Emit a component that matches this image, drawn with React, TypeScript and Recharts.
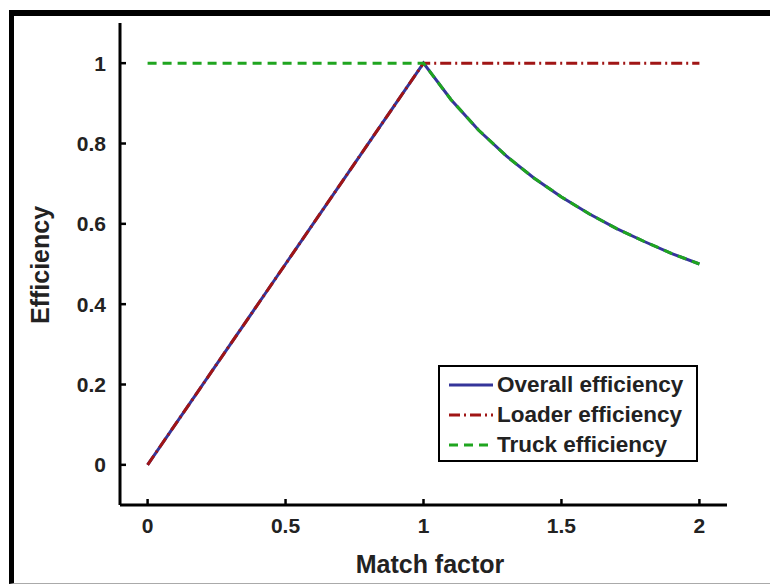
import { LineChart, Line, XAxis, YAxis, Legend } from 'recharts';

const matchFactor = [0, 0.25, 0.5, 0.75, 1, 1.1, 1.2, 1.3, 1.4, 1.5, 1.6, 1.7, 1.8, 1.9, 2];
const overallEff = [0, 0.25, 0.5, 0.75, 1, 0.909, 0.833, 0.769, 0.714, 0.667, 0.625, 0.588, 0.556, 0.526, 0.5];
const loaderEff = [0, 0.25, 0.5, 0.75, 1, 1, 1, 1, 1, 1, 1, 1, 1, 1, 1];
const truckEff = [1, 1, 1, 1, 1, 0.909, 0.833, 0.769, 0.714, 0.667, 0.625, 0.588, 0.556, 0.526, 0.5];
const xTicks = [0, 0.5, 1, 1.5, 2];
const yTicks = [0, 0.2, 0.4, 0.6, 0.8, 1];

const data = matchFactor.map((mf, i) => ({
  mf,
  overall: overallEff[i],
  loader: loaderEff[i],
  truck: truckEff[i],
}));

const FONT = 'Liberation Sans, Arial, Helvetica, sans-serif';
const BLUE = '#35359a';
const RED = '#a01515';
const GREEN = '#1fa51f';

const XTick = (props: any) => {
  const { x, y, payload } = props;
  return (
    <g>
      <line x1={x} x2={x} y1={y} y2={y - 6} stroke="#000" strokeWidth={2.5} />
      <text x={x} y={y + 28} textAnchor="middle" fontFamily={FONT} fontWeight="bold" fontSize={21} fill="#222">
        {payload.value}
      </text>
    </g>
  );
};

const YTick = (props: any) => {
  const { x, y, payload } = props;
  return (
    <g>
      <line x1={x} x2={x + 6} y1={y} y2={y} stroke="#000" strokeWidth={2.5} />
      <text x={x - 14} y={y + 7.5} textAnchor="end" fontFamily={FONT} fontWeight="bold" fontSize={21} fill="#222">
        {payload.value}
      </text>
    </g>
  );
};

const legendItems = [
  { name: 'Overall efficiency', color: BLUE, dash: undefined },
  { name: 'Loader efficiency', color: RED, dash: '11 4 2 4' },
  { name: 'Truck efficiency', color: GREEN, dash: '9 6' },
];

const LegendBox = () => (
  <div
    style={{
      boxSizing: 'border-box',
      width: 260,
      height: 97,
      border: '2.5px solid #000',
      background: '#fff',
      padding: '3px 0 0 8px',
      fontFamily: FONT,
      fontWeight: 'bold',
      fontSize: 22.5,
      color: '#222',
    }}
  >
    {legendItems.map((it) => (
      <div key={it.name} style={{ display: 'flex', alignItems: 'center', height: 30 }}>
        <svg width={46} height={10} style={{ marginRight: 3 }}>
          <line x1={1} x2={45} y1={5} y2={5} stroke={it.color} strokeWidth={3} strokeDasharray={it.dash} />
        </svg>
        <span>{it.name}</span>
      </div>
    ))}
  </div>
);

export default function App() {
  return (
    <div style={{ position: 'absolute', left: 0, top: 0, width: 770, height: 585, background: '#fff' }}>
      <div
        style={{
          position: 'absolute',
          left: 9,
          top: 10,
          right: 0,
          bottom: 1,
          borderTop: '6px solid #000',
          borderLeft: '5px solid #000',
          borderBottom: '1px solid #aaa',
        }}
      />
      <div style={{ position: 'absolute', left: 0, top: 0 }}>
        <LineChart width={770} height={585} data={data} margin={{ top: 23, right: 43, bottom: 0, left: 0 }}>
          <XAxis
            dataKey="mf"
            type="number"
            domain={[-0.1, 2.1]}
            ticks={xTicks}
            height={80}
            tickSize={0}
            tickMargin={0}
            tickLine={false}
            axisLine={{ stroke: '#000', strokeWidth: 3 }}
            tick={<XTick />}
            label={{
              content: () => (
                <text x={430} y={573} textAnchor="middle" fontFamily={FONT} fontWeight="bold" fontSize={25} fill="#222">
                  Match factor
                </text>
              ),
            }}
          />
          <YAxis
            type="number"
            domain={[-0.1, 1.1]}
            ticks={yTicks}
            width={120}
            tickSize={0}
            tickMargin={0}
            tickLine={false}
            axisLine={{ stroke: '#000', strokeWidth: 3 }}
            tick={<YTick />}
            label={{
              content: () => (
                <text
                  x={49}
                  y={265}
                  transform="rotate(-90 49 265)"
                  textAnchor="middle"
                  fontFamily={FONT}
                  fontWeight="bold"
                  fontSize={25}
                  fill="#222"
                >
                  Efficiency
                </text>
              ),
            }}
          />
          <Legend
            layout="vertical"
            align="center"
            verticalAlign="middle"
            content={<LegendBox />}
            wrapperStyle={{ position: 'absolute', left: 438, top: 365, width: 260, height: 97 }}
          />
          <Line dataKey="overall" name="Overall efficiency" stroke={BLUE} strokeWidth={3} dot={false} isAnimationActive={false} />
          <Line dataKey="loader" name="Loader efficiency" stroke={RED} strokeWidth={3} strokeDasharray="11 4 2 4" dot={false} isAnimationActive={false} />
          <Line dataKey="truck" name="Truck efficiency" stroke={GREEN} strokeWidth={3} strokeDasharray="9 6" dot={false} isAnimationActive={false} />
        </LineChart>
      </div>
    </div>
  );
}
